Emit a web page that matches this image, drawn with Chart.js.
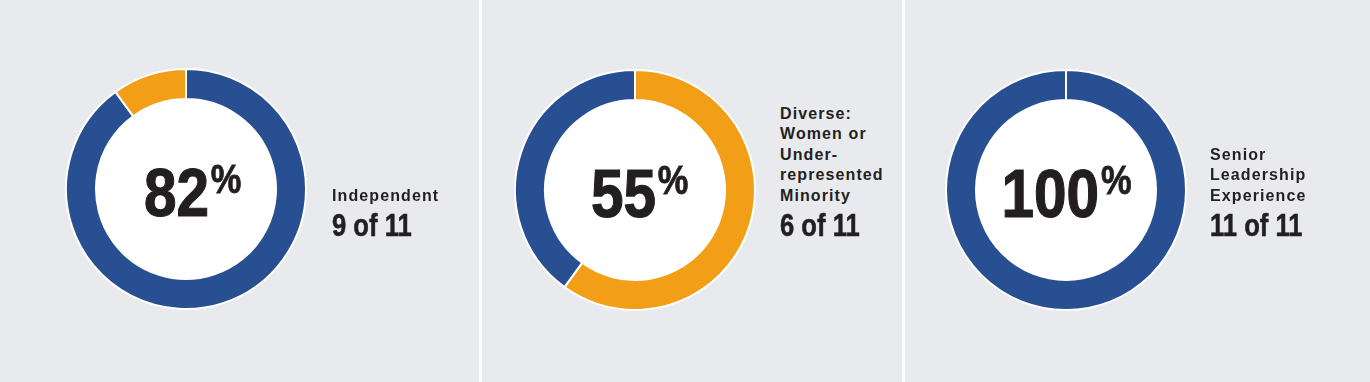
<!DOCTYPE html>
<html>
<head>
<meta charset="utf-8">
<script src="https://cdn.jsdelivr.net/npm/chart.js@4"></script>
<style>
  body { margin: 0; background: #e9eaee; }
  #wrap { position: relative; width: 1370px; height: 382px; overflow: hidden; background: #e9eaee; }
  .divider { position: absolute; top: 0; width: 3px; height: 382px; background: #fff; }
  canvas.donut { position: absolute; }
  .pct {
    position: absolute; width: 240px; text-align: center; color: #231f20;
    font-family: "Liberation Sans", Arial, Helvetica, sans-serif;
    font-weight: bold; font-size: 68px; line-height: 68px; white-space: nowrap;
    -webkit-text-stroke: 1.2px #231f20;
  }
  .pct .squeeze { display: inline-block; transform: scaleX(0.86); transform-origin: 50% 50%; }
  .pct .sign { font-size: 40px; line-height: 40px; vertical-align: top; position: relative; top: 1px; margin-left: 2px; -webkit-text-stroke: 0.8px #231f20; }
  .label {
    position: absolute; color: #231f20; font-family: "Liberation Sans", Arial, Helvetica, sans-serif;
    font-weight: bold; font-size: 16px; line-height: 20.5px; letter-spacing: 1.1px; white-space: nowrap;
  }
  .label .count {
    font-size: 32px; line-height: 34px; letter-spacing: 0; margin-top: 2px;
    transform: scaleX(0.8); transform-origin: 0 50%;
    -webkit-text-stroke: 0.6px #231f20;
  }
</style>
</head>
<body>
<div id="wrap">
  <div class="divider" style="left:479px"></div>
  <div class="divider" style="left:902px"></div>
</div>
<script>
// what the three rings say
const percentValues = [82, 55, 100];
const labelLines = [
  ['Independent'],
  ['Diverse:', 'Women or', 'Under-', 'represented', 'Minority'],
  ['Senior', 'Leadership', 'Experience']
];
const countLabels = ['9 of 11', '6 of 11', '11 of 11'];

// slice sizes as drawn, clockwise from 12 o'clock
const independentSlices = [90, 10];
const diverseSlices = [60, 40];
const leadershipSlices = [100];

const BLUE = '#284f91';
const ORANGE = '#f29e16';

const panels = [
  { cx: 186, cy: 189, data: independentSlices, colors: [BLUE, ORANGE], textShift: 7, labelX: 332 },
  { cx: 635, cy: 190, data: diverseSlices, colors: [ORANGE, BLUE], textShift: 5, labelX: 780 },
  { cx: 1066, cy: 190, data: leadershipSlices, colors: [BLUE], textShift: 1, labelX: 1210 }
];

// fill the hole of the ring white
const whiteHole = {
  id: 'whiteHole',
  beforeDatasetsDraw(chart) {
    const arc = chart.getDatasetMeta(0).data[0];
    if (!arc) return;
    const ctx = chart.ctx;
    ctx.save();
    ctx.fillStyle = '#fff';
    ctx.beginPath();
    ctx.arc(arc.x, arc.y, arc.innerRadius, 0, Math.PI * 2);
    ctx.fill();
    ctx.restore();
  }
};

const wrap = document.getElementById('wrap');
const SIZE = 242;

panels.forEach((p, i) => {
  const cv = document.createElement('canvas');
  cv.className = 'donut';
  cv.width = SIZE; cv.height = SIZE;
  cv.style.width = SIZE + 'px'; cv.style.height = SIZE + 'px';
  cv.style.left = (p.cx - SIZE / 2) + 'px';
  cv.style.top = (p.cy - SIZE / 2) + 'px';
  wrap.appendChild(cv);

  new Chart(cv, {
    type: 'doughnut',
    data: {
      datasets: [{
        data: p.data,
        backgroundColor: p.colors,
        borderColor: '#ffffff',
        borderWidth: 2,
        hoverOffset: 0
      }]
    },
    options: {
      responsive: false,
      animation: false,
      events: [],
      cutout: '75%',
      layout: { padding: 0 },
      plugins: { legend: { display: false }, tooltip: { enabled: false } }
    },
    plugins: [whiteHole]
  });

  const pct = document.createElement('div');
  pct.className = 'pct';
  pct.innerHTML = '<span class="squeeze">' + percentValues[i] + '<span class="sign">%</span></span>';
  pct.style.left = (p.cx + p.textShift - 120) + 'px';
  pct.style.top = (p.cy - 31) + 'px';
  wrap.appendChild(pct);

  const lab = document.createElement('div');
  lab.className = 'label';
  lab.style.left = p.labelX + 'px';
  lab.style.bottom = '140px';
  lab.innerHTML = labelLines[i].map(t => '<div>' + t + '</div>').join('') +
    '<div class="count">' + countLabels[i] + '</div>';
  wrap.appendChild(lab);
});
</script>
</body>
</html>
